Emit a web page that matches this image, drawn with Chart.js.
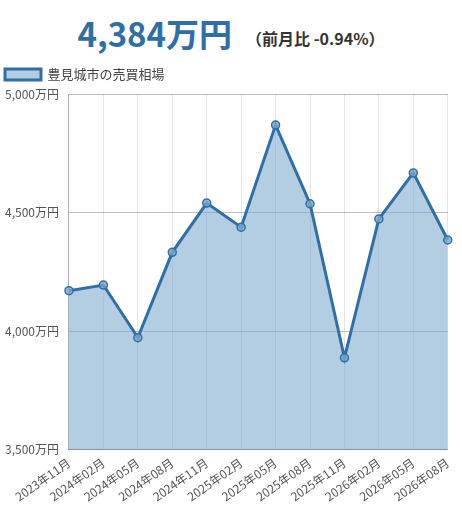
<!DOCTYPE html>
<html><head><meta charset="utf-8">
<script src="https://cdn.jsdelivr.net/npm/chart.js@4/dist/chart.umd.min.js"></script>
<style>
html,body{margin:0;padding:0;background:#fff;width:462px;height:513px;overflow:hidden;font-family:"Noto Sans CJK JP","Noto Sans",sans-serif;}
#hdr{height:58px;display:flex;justify-content:center;align-items:flex-end;box-sizing:border-box;padding-bottom:8px;}
#big{font-size:33px;font-weight:bold;color:#2f6fa5;line-height:1;}
#sub{font-size:16px;font-weight:bold;color:#333;margin-left:14px;line-height:1;padding-bottom:4px;}
#wrap{position:relative;width:468px;height:455px;margin-left:-6px;}
</style></head><body>
<div id="hdr"><span id="big">4,384万円</span><span id="sub">（前月比 -0.94%）</span></div>
<div id="wrap"><canvas id="c"></canvas></div>
<script>
const labels = ["2023年11月","2024年02月","2024年05月","2024年08月","2024年11月","2025年02月","2025年05月","2025年08月","2025年11月","2026年02月","2026年05月","2026年08月"];
const prices = [4170,4194,3972,4332,4540,4438,4869,4537,3887,4473,4667,4384];
const seriesName = "豊見城市の売買相場";
const yTicks = [3500,4000,4500,5000];

new Chart(document.getElementById('c'), {
  type: 'line',
  data: { labels: labels, datasets: [{
    label: seriesName, data: prices, fill: 'start',
    borderColor: '#2f6fa5', backgroundColor: 'rgba(120,166,204,0.56)',
    borderWidth: 3, pointRadius: 4, pointBorderWidth: 1.5,
    pointBackgroundColor: 'rgba(120,166,204,0.8)', pointBorderColor: '#2f6fa5', tension: 0
  }]},
  options: {
    responsive: true, maintainAspectRatio: false, animation: false,
    layout: { padding: { left: 1, right: 9, bottom: 3 } },
    plugins: {
      legend: { align: 'start', labels: { boxWidth: 36, boxHeight: 11, color: '#444', font: { size: 13, family: '"Noto Sans CJK JP"' } } },
      tooltip: { enabled: false }
    },
    scales: {
      x: { grid: { color: 'rgba(0,0,0,0.1)', drawTicks: false },
           border: { color: 'rgba(0,0,0,0.25)' },
           ticks: { color: '#555', maxRotation: 35, minRotation: 35, padding: 6, font: { size: 12, family: '"Noto Sans CJK JP"' } } },
      y: { min: 3500, max: 5000,
           afterBuildTicks: (ax) => { ax.ticks = yTicks.map(v => ({ value: v })); },
           grid: { color: 'rgba(0,0,0,0.25)', drawTicks: false },
           border: { color: 'rgba(0,0,0,0.25)' },
           ticks: { color: '#555', padding: 10, font: { size: 12, family: '"Noto Sans CJK JP"' },
             callback: (v) => v.toLocaleString('en-US') + '万円' } }
    }
  },
  plugins: [{ id: 'legendGap', beforeInit(chart) {
    const fit = chart.legend.fit;
    chart.legend.fit = function () { fit.bind(chart.legend)(); this.height += 3; };
  } }]
});
</script></body></html>
